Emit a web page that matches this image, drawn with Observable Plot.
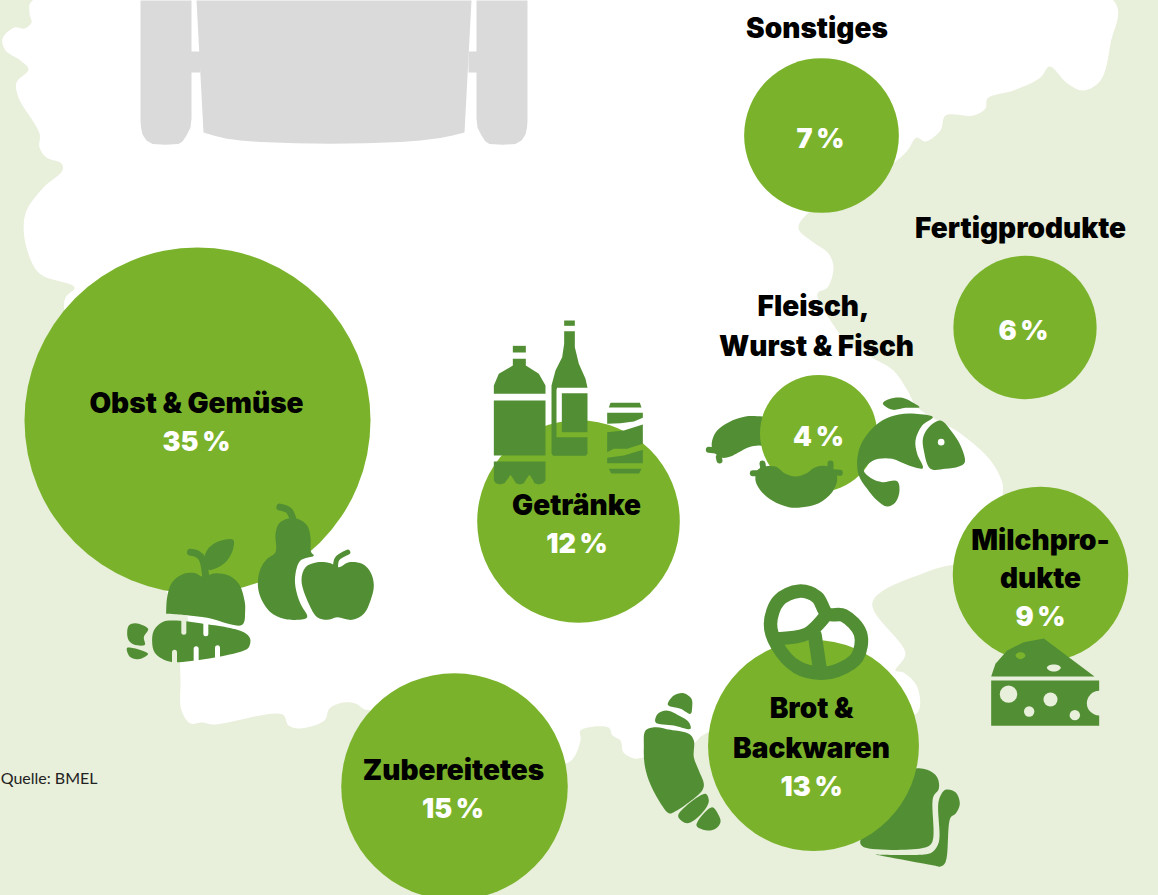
<!DOCTYPE html>
<html><head><meta charset="utf-8">
<script src="https://cdn.jsdelivr.net/npm/d3@7"></script>
<script src="https://cdn.jsdelivr.net/npm/@observablehq/plot@0.6"></script>
<style>html,body{margin:0;padding:0;background:#e8efdb;overflow:hidden}svg{display:block}</style>
</head><body><div id="chart"></div>
<script>
// ---- colours
const pale = "#e8efdb", leaf = "#7ab32b", icon = "#528f34", gray = "#dadada";

// ---- the data
const categories = ["Obst & Gemüse","Getränke","Sonstiges","Fertigprodukte","Fleisch, Wurst & Fisch","Milchprodukte","Brot & Backwaren","Zubereitetes"];
const shares     = [35,12,7,6,4,9,13,15];
const centreX    = [197,578,821,1024.5,818,1040,813,454];
const centreY    = [420,521,135,327,433,574,745,786];
const valueX     = [196,576.5,820,1023,818,1040,811,452.5];
const valueY     = [450,552,147,339,445,625,795,817];
const labelLines = [
  ["Obst & Gemüse",196,412],["Getränke",576,514],["Sonstiges",816.5,37],["Fertigprodukte",1020,237],
  ["Fleisch,",813,315],["Wurst & Fisch",816,355],["Milchpro-",1040,549],["dukte",1040,587],
  ["Brot &",811,717],["Backwaren",811,757],["Zubereitetes",453,779]
];
const source = [["Quelle: BMEL",97,783]];

// ---- the backdrop outlines
const germany = [[32,0],[29,13],[31,22],[24,28],[14,27],[2,38],[5,50],[20,60],[28,69],[16,82],[18,97],[39,133],[39,147],[46,157],[61,163],[62,170],[43,187],[25,213],[25,243],[39,273],[74,287],[64,300],[120,500],[165,590],[187,616],[180,650],[180,680],[181,710],[190,723],[201,722],[214,724],[282,714],[288,725],[299,728],[324,720],[329,708],[343,702],[355,703],[364,709],[370,710],[566,763],[580,740],[580,730],[608,727],[612,735],[620,740],[623,752],[634,758],[643,757],[693,743],[702,735],[800,700],[916,713],[917,687],[903,672],[895,670],[905,653],[872,602],[930,570],[1000,550],[1002,497],[1002,483],[990,460],[960,433],[917,407],[907,390],[893,370],[873,358],[850,345],[830,320],[817,293],[827,287],[833,267],[828,253],[813,242],[798,228],[807,213],[895,161],[907,150],[916,137],[925,141],[940,130],[945,115],[973,115],[985,108],[987,98],[1013,90],[1040,77],[1049,66],[1067,83],[1083,90],[1100,80],[1110,43],[1113,0]];
const grayLeft = [[140,0],[191,0],[191,51],[200,51],[200,72],[191,72],[191,118],[190,127],[186,135],[182,141],[178,143.5],[165,144.3],[152,143.5],[146,140],[142,134],[140.5,127],[140,120]];
const grayRight = [[527,0],[476,0],[476,51],[468,51],[468,72],[476,72],[476,118],[477,127],[481,135],[485,141],[489,143.5],[502,144.3],[515,143.5],[521,140],[525,134],[526.5,127],[527,120]];
const grayMiddle = [[196,0],[471,0],[464,132],[452,135],[440,137.5],[420,140],[400,141.5],[365,142.8],[330,143.2],[295,142.8],[260,141.5],[240,140],[225,138],[213,135],[203,132]];

// ---- icon outlines
const appleBody=[[197,370],[200,320],[215,275],[250,250],[285,248],[305,258],[345,248],[385,255],[415,280],[432,330],[434,360],[425,403],[320,382],[265,375],[197,370]];
const appleStem=[[270,185],[290,190],[305,205],[316,260]];
const appleLeaf=[[312,200],[325,172],[355,152],[398,148],[398,175],[380,210],[350,232],[325,238],[318,215]];
const carrot=[[155,455],[160,420],[185,395],[215,390],[300,398],[430,425],[449,445],[445,470],[425,482],[220,515],[185,505],[162,485]];
const carrotTopA=[[80,430],[85,405],[105,398],[143,415],[130,440],[133,463],[100,462],[85,450]];
const carrotTopB=[[80,472],[143,490],[125,503],[100,505],[85,495]];
const carrotNotchPale=[[[250,392],[250,425]],[[222,485],[222,515]]];
const carrotNotchWhite=[[[316,400],[316,430]],[[287,475],[287,510]],[[351,472],[351,498]]];
const pear=[[525,130],[535,100],[560,85],[590,85],[620,105],[630,140],[632,185],[640,195],[600,210],[585,250],[585,290],[600,340],[620,380],[590,388],[550,385],[510,365],[480,320],[472,280],[480,235],[500,205],[525,185]];
const pearStem=[[538,50],[565,60],[578,88]];
const appleTwo=[[603,270],[615,230],[650,215],[690,218],[715,230],[745,215],[785,220],[810,245],[820,285],[810,330],[790,370],[755,388],[710,380],[680,388],[650,380],[625,340]];
const appleTwoStem=[[705,232],[710,205],[742,185]];

const bottleCap=[[97,106],[136,106],[136,126],[97,126]];
const bottleTop=[[97,145],[136,145],[136,165],[175,190],[195,225],[195,250],[40,250],[40,225],[55,190],[97,165]];
const bottleMid=[[40,270],[195,270],[195,435],[40,435]];
const bottleBase=[[40,453],[195,453],[195,510],[188,518],[175,522],[162,518],[155,505],[147,493],[138,505],[130,518],[118,522],[106,518],[98,505],[90,493],[82,505],[72,518],[58,522],[46,518],[40,510]];
const wineCap=[[251,30],[283,30],[283,46],[251,46]];
const wine=[[251,62],[283,62],[283,110],[295,160],[315,205],[321,232],[230,232],[228,238],[228,380],[321,380],[321,430],[316,436],[218,436],[213,430],[213,225],[225,180],[245,140],[251,100]];
const wineLabel=[[244,248],[321,248],[321,365],[244,365]];
const canTop=[[390,277],[478,277],[483,291],[385,291]];
const canA=[[380,307],[487,307],[487,322],[460,333],[420,338],[380,340]];
const canB=[[380,365],[430,360],[487,342],[487,400],[440,415],[400,415],[380,425]];
const canC=[[380,442],[430,435],[487,418],[487,458],[380,458]];
const canBottom=[[385,475],[483,475],[476,489],[392,489]];

const sausageUp=[[50,180],[65,150],[100,125],[150,108],[200,108],[225,110],[225,195],[190,195],[160,200],[130,215],[105,228],[80,232],[60,220],[50,205]];
const sausageUpTips=[[[40,208],[60,210]],[[70,230],[72,240]]];
const sausageDown=[[180,300],[185,270],[200,260],[240,258],[270,280],[300,288],[330,280],[360,260],[400,258],[420,275],[425,300],[410,335],[370,368],[320,380],[280,380],[230,360],[195,330]];
const sausageDownTips=[[[172,278],[190,278]],[[201,249],[203,262]],[[405,249],[405,262]],[[415,275],[433,277]]];
const fishBody=[[485,240],[495,195],[520,155],[560,120],[610,102],[660,100],[712,110],[680,135],[660,180],[665,220],[682,263],[640,255],[590,235],[550,235],[525,245],[505,270],[530,295],[560,305],[605,302],[612,330],[600,365],[575,378],[545,360],[515,325],[490,285]];
const fishHead=[[735,120],[705,135],[683,170],[685,210],[705,265],[750,265],[790,258],[808,245],[795,195],[770,155]];
const fishFin=[[562,68],[580,56],[620,52],[650,65],[672,80],[630,82],[592,88],[570,78]];
const fishEye=[[737,185]];

const pretzelRing=[[420,160],[445,90],[505,62],[560,80],[590,130],[640,135],[690,190],[680,260],[620,300],[570,308],[500,290],[440,225]];
const pretzelBarA=[[440,205],[525,192],[560,165],[590,130]];
const pretzelBarB=[[553,195],[568,295]];
const croissant=[[40,530],[45,480],[75,470],[120,478],[175,490],[190,510],[190,560],[205,600],[220,640],[215,660],[130,725],[115,728],[85,690],[55,630],[42,580]];
const croissantA=[[75,455],[82,430],[108,420],[145,435],[175,455],[180,475],[130,465]];
const croissantB=[[112,403],[130,375],[160,368],[183,385],[185,410],[180,430],[150,415]];
const croissantC=[[143,735],[225,670],[235,690],[225,715],[190,750],[170,758],[155,752]];
const croissantD=[[198,765],[245,710],[265,735],[270,755],[255,775],[230,780]];
const breadFront=[[690,820],[700,830],[880,832],[905,815],[908,680],[925,655],[920,620],[890,598],[845,598],[690,810]];
const breadBack=[[733,852],[733,852],[880,852],[905,845],[925,815],[925,690],[945,658],[975,665],[988,700],[975,730],[960,742],[945,875],[930,888],[910,885]];

const cheeseTop=[[92,168],[105,130],[140,90],[190,65],[250,54],[402,168]];
const cheeseFront=[[92,180],[416,180],[416,316],[92,316]];
const cheeseHoles=[[144,221,8.7],[270,237,7],[206,273,5.2],[343,284,5.2],[416,248,12.3]];
const cheeseSpotPale=[[259,142],[265,135],[280,132],[295,135],[301,142],[295,149],[280,153],[265,149]];
const cheeseSpotLeaf=[[165,105],[170,98],[180,95],[190,98],[195,105],[190,112],[180,116],[170,112]];

// ---- helpers: an icon outline is given in the crop's own grid
const at = (ox,oy,k=3) => p => [ox+p[0]/k, oy+p[1]/k];
const fruit=at(100,490), drinks=at(480,310), meat=at(695,380), bakery=at(630,570), dairy=at(960,620);
const smooth=(pts,map,fill=icon)=>Plot.line(pts.map(map),{x:d=>d[0],y:d=>d[1],fill,stroke:"none",curve:"catmull-rom-closed"});
const sharp=(pts,map,fill=icon)=>Plot.line(pts.map(map),{x:d=>d[0],y:d=>d[1],fill,stroke:"none",curve:"linear-closed"});
const stroke=(pts,map,w,col=icon)=>Plot.line(pts.map(map),{x:d=>d[0],y:d=>d[1],stroke:col,strokeWidth:w,strokeLinecap:"round",curve:"catmull-rom"});
const id=p=>p;

const bubbles = categories.map((c,i)=>({c,share:shares[i],x:centreX[i],y:centreY[i]}));
const values = shares.map((s,i)=>({t:`${s}\u2009%`,x:valueX[i],y:valueY[i]}));
const labels = labelLines.map(([t,x,y])=>({t,x,y}));
const font = "Inter, 'Liberation Sans', sans-serif";

const chart = Plot.plot({
  width:1158,height:895,margin:0,
  style:{background:pale,overflow:"hidden"},
  x:{type:"linear",domain:[0,1158],range:[0,1158],axis:null},
  y:{type:"linear",domain:[0,895],range:[0,895],axis:null},
  r:{type:"sqrt",domain:[0,35],range:[0,173]},
  marks:[
    smooth(germany,id,"#fff"),
    sharp(grayLeft,id,gray),sharp(grayRight,id,gray),sharp(grayMiddle,id,gray),
    // icons behind the bubbles
    smooth(breadFront,bakery),smooth(breadBack,bakery),
    smooth(sausageUp,meat),
    ...sausageUpTips.map(t=>stroke(t,meat,6)),
    // bubbles
    Plot.dot(bubbles,{x:"x",y:"y",r:"share",fill:leaf,stroke:"none",title:"c"}),
    // icons in front
    smooth(appleBody,fruit),stroke(appleStem,fruit,7),smooth(appleLeaf,fruit),
    smooth(carrot,fruit),smooth(carrotTopA,fruit),smooth(carrotTopB,fruit),
    ...carrotNotchPale.map(t=>stroke(t,fruit,5,pale)),
    ...carrotNotchWhite.map(t=>stroke(t,fruit,5,"#fff")),
    smooth(pear,fruit),stroke(pearStem,fruit,7),smooth(appleTwo,fruit),stroke(appleTwoStem,fruit,5),
    sharp(bottleCap,drinks),sharp(bottleTop,drinks),sharp(bottleMid,drinks),sharp(bottleBase,drinks),
    sharp(wineCap,drinks),sharp(wine,drinks),sharp(wineLabel,drinks),
    sharp(canTop,drinks),sharp(canA,drinks),sharp(canB,drinks),sharp(canC,drinks),sharp(canBottom,drinks),
    smooth(sausageDown,meat),...sausageDownTips.map(t=>stroke(t,meat,6)),
    smooth(fishBody,meat),smooth(fishHead,meat),smooth(fishFin,meat),
    Plot.dot(fishEye.map(meat),{x:d=>d[0],y:d=>d[1],r:3.3,fill:"#fff"}),
    Plot.line(pretzelRing.map(bakery),{x:d=>d[0],y:d=>d[1],stroke:icon,strokeWidth:13.5,curve:"catmull-rom-closed"}),
    stroke(pretzelBarA,bakery,13),stroke(pretzelBarB,bakery,14),
    smooth(croissant,bakery),smooth(croissantA,bakery),smooth(croissantB,bakery),smooth(croissantC,bakery),smooth(croissantD,bakery),
    sharp(cheeseTop,dairy),sharp(cheeseFront,dairy),
    ...cheeseHoles.map(h=>Plot.dot([dairy(h)],{x:d=>d[0],y:d=>d[1],r:h[2],fill:pale})),
    smooth(cheeseSpotPale,dairy,pale),smooth(cheeseSpotLeaf,dairy,leaf),
    // text
    Plot.text(labels,{x:"x",y:"y",text:"t",fill:"#000",fontSize:28,fontWeight:900,fontFamily:font,textAnchor:"middle",lineAnchor:"bottom"}),
    Plot.text(values,{x:"x",y:"y",text:"t",fill:"#fff",fontSize:27,fontWeight:900,fontFamily:font,textAnchor:"middle",lineAnchor:"bottom"}),
    Plot.text(source,{x:d=>d[1],y:d=>d[2],text:d=>d[0],fill:"#222",fontSize:16,fontWeight:400,fontFamily:"Lato, sans-serif",textAnchor:"end",lineAnchor:"bottom"})
  ]
});
document.getElementById("chart").append(chart);
</script></body></html>
